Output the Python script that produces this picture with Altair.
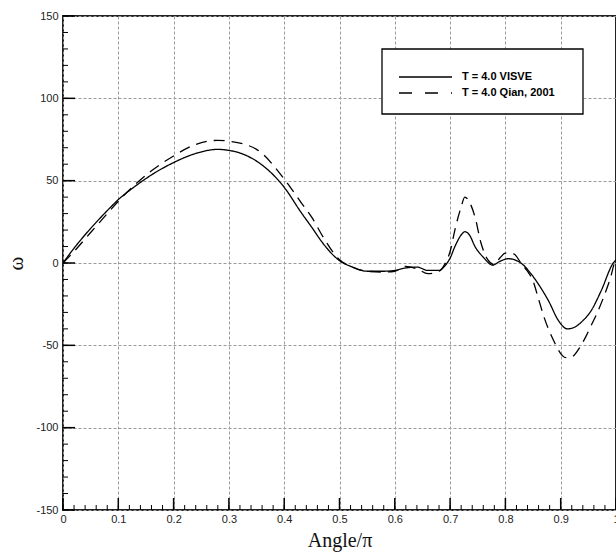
import altair as alt
import pandas as pd

# ---- data ----
visve_x = [0, 0.02, 0.05, 0.08, 0.1, 0.13, 0.16, 0.2, 0.24, 0.28, 0.3, 0.33, 0.36, 0.4, 0.43, 0.45, 0.47,
           0.5, 0.52, 0.55, 0.58, 0.6, 0.62, 0.64, 0.66, 0.68, 0.69, 0.7, 0.71, 0.72, 0.727, 0.735, 0.745,
           0.76, 0.777, 0.79, 0.805, 0.82, 0.83, 0.845, 0.86, 0.878, 0.896, 0.912, 0.925, 0.937, 0.955,
           0.973, 0.995, 1.0]
visve_y = [0, 9, 21, 31.8, 38.5, 46.5, 53.5, 61, 66.5, 69, 68.4, 65.5, 59.5, 46, 31, 21.6, 12,
           1.4, -2, -5, -5, -4.5, -3, -2.5, -4.5, -4.5, -2, 3, 11, 17, 19, 17, 10,
           3.5, -1.3, 1, 2.6, 1.5, -0.5, -6, -13, -23, -35, -40, -39, -36, -29,
           -17, 0, 2]

qian_x = [0, 0.02, 0.05, 0.08, 0.1, 0.13, 0.16, 0.2, 0.24, 0.28, 0.3, 0.35, 0.4, 0.43, 0.45, 0.47,
          0.5, 0.52, 0.55, 0.58, 0.6, 0.62, 0.64, 0.66, 0.68, 0.69, 0.7, 0.71, 0.72, 0.7265, 0.735, 0.745,
          0.756, 0.768, 0.78, 0.79, 0.8, 0.815, 0.83, 0.84, 0.85, 0.86, 0.87, 0.89, 0.9, 0.91, 0.92,
          0.935, 0.945, 0.955, 0.965, 0.975, 0.985, 0.99, 0.997, 1.0]
qian_y = [0, 7, 18.5, 30, 37.5, 47.5, 56, 65, 72, 74.5, 74, 69, 51, 37, 27.7, 16,
          2, -2, -5, -5.5, -5, -2, -3.5, -6.5, -5, -1, 7, 22, 34, 40, 37, 28,
          12, 2, -1, 3, 6, 5.5, -1, -5, -11, -22, -33, -49, -55, -57.5, -57,
          -51, -45, -38, -31, -23, -14, -9, 0, 3]

x_major = [0, 0.1, 0.2, 0.3, 0.4, 0.5, 0.6, 0.7, 0.8, 0.9, 1.0]
y_major = [-150, -100, -50, 0, 50, 100, 150]
x_minor = [round(i * 0.02, 2) for i in range(51)]
y_minor = [-150 + 10 * i for i in range(31)]

series_names = ["T = 4.0 VISVE", "T = 4.0 Qian, 2001"]

W, H = 553, 494
SANS = "Liberation Sans"
SERIF = "Liberation Serif"

df = pd.concat([
    pd.DataFrame({"x": visve_x, "y": visve_y, "s": series_names[0], "o": range(len(visve_x))}),
    pd.DataFrame({"x": qian_x, "y": qian_y, "s": series_names[1], "o": range(len(qian_x))}),
])

xscale = alt.Scale(domain=[0, 1], nice=False, zero=False)
yscale = alt.Scale(domain=[-150, 150], nice=False, zero=False)

xaxis = alt.Axis(values=x_major, format="~g", ticks=False, domain=False, grid=True,
                 gridColor="#9a9a9a", gridDash=[3, 2], gridWidth=1, gridOpacity=1,
                 labelFont=SANS, labelFontSize=11, labelColor="#222", labelPadding=3,
                 title="Angle/π", titleFont=SERIF, titleFontSize=20, titleFontWeight="normal",
                 titleColor="#111", titlePadding=6, labelFlush=False)
yaxis = alt.Axis(values=y_major, ticks=False, domain=False, grid=True,
                 gridColor="#9a9a9a", gridDash=[3, 2], gridWidth=1, gridOpacity=1,
                 labelExpr="datum.value < 0 ? '-' + abs(datum.value) : '' + datum.value",
                 labelFont=SANS, labelFontSize=11, labelColor="#222", labelPadding=5,
                 title="ω", titleFont=SERIF, titleFontSize=21, titleFontWeight="normal",
                 titleColor="#111", titleX=-37, titleY=H / 2, titleBaseline="bottom",
                 labelFlush=False)

lines = alt.Chart(df).mark_line(color="black", strokeWidth=1.3, clip=True, interpolate="monotone").encode(
    x=alt.X("x:Q", scale=xscale, axis=xaxis),
    y=alt.Y("y:Q", scale=yscale, axis=yaxis),
    strokeDash=alt.StrokeDash("s:N", scale=alt.Scale(domain=series_names, range=[[1, 0], [11, 7]]), legend=None),
    detail="s:N",
    order="o:Q",
)

def xticks(vals, length, width):
    return alt.Chart(pd.DataFrame({"x": vals})).mark_rule(color="black", strokeWidth=width).encode(
        x=alt.X("x:Q", scale=xscale), y=alt.value(H), y2=alt.value(H - length))

def yticks(vals, length, width):
    return alt.Chart(pd.DataFrame({"y": vals})).mark_rule(color="black", strokeWidth=width).encode(
        y=alt.Y("y:Q", scale=yscale), x=alt.value(0), x2=alt.value(length))

one = pd.DataFrame({"a": [0]})
box = alt.Chart(one).mark_rect(fill="white", stroke="black", strokeWidth=1.3).encode(
    x=alt.value(319), x2=alt.value(520), y=alt.value(33), y2=alt.value(98))
leg_solid = alt.Chart(one).mark_rule(color="black", strokeWidth=1.3).encode(
    x=alt.value(336), x2=alt.value(389), y=alt.value(61))
leg_dash = alt.Chart(one).mark_rule(color="black", strokeWidth=1.3, strokeDash=[13, 13]).encode(
    x=alt.value(336), x2=alt.value(389), y=alt.value(77))
leg_t1 = alt.Chart(one).mark_text(font=SANS, fontSize=11, fontWeight="bold", align="left",
                                  baseline="middle", color="black").encode(
    x=alt.value(399), y=alt.value(61), text=alt.value(series_names[0]))
leg_t2 = alt.Chart(one).mark_text(font=SANS, fontSize=11, fontWeight="bold", align="left",
                                  baseline="middle", color="black").encode(
    x=alt.value(399), y=alt.value(77), text=alt.value(series_names[1]))

chart = alt.layer(
    lines,
    xticks(x_major, 12, 1.5), xticks(x_minor, 5, 1),
    yticks(y_major, 12, 1.5), yticks(y_minor, 5, 1),
    box, leg_solid, leg_dash, leg_t1, leg_t2,
).properties(
    width=W, height=H,
    autosize=alt.AutoSizeParams(type="none"),
    padding={"left": 63, "top": 16, "right": 0, "bottom": 47},
    background="white",
).configure_view(stroke="#222", strokeWidth=2)

chart.save("out.html", embed_options={"renderer": "svg", "actions": False})
